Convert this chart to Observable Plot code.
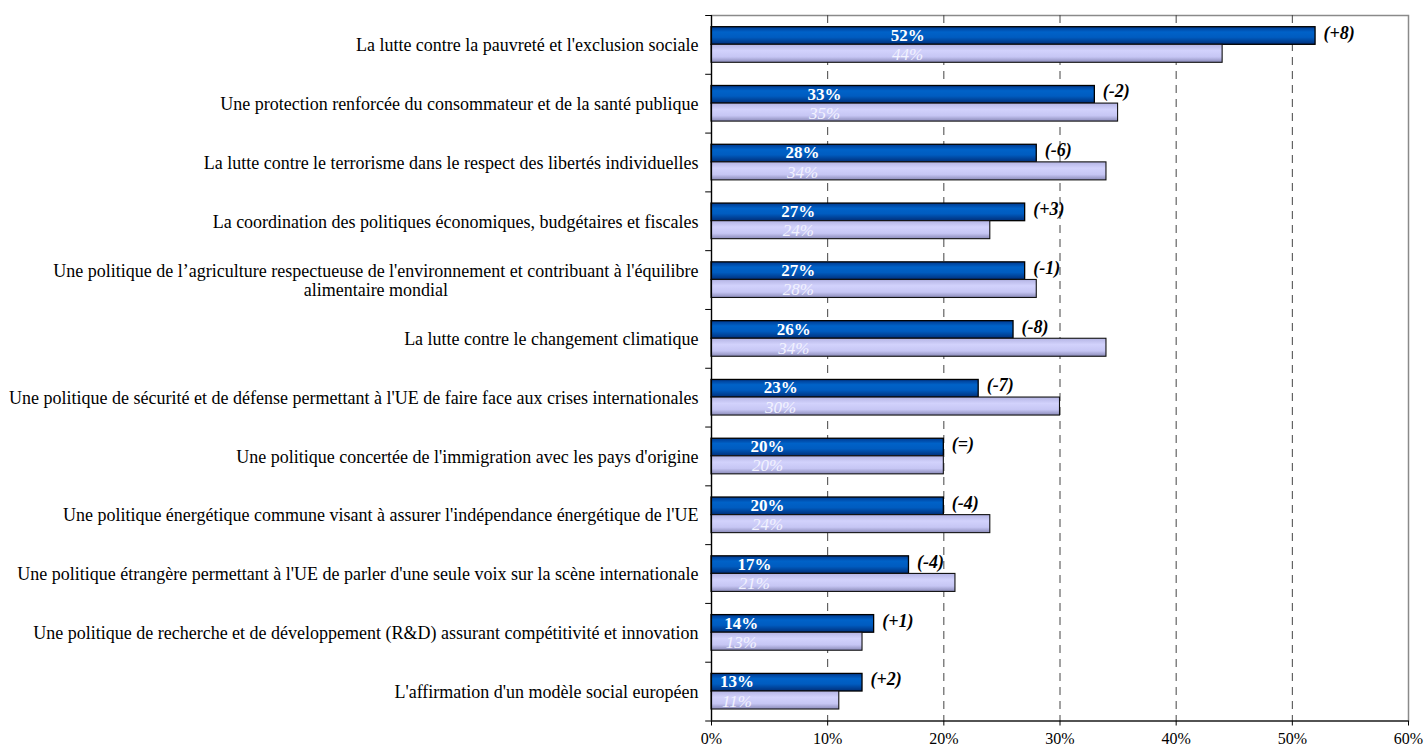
<!DOCTYPE html>
<html>
<head>
<meta charset="utf-8">
<script src="https://cdn.jsdelivr.net/npm/d3@7"></script>
<script src="https://cdn.jsdelivr.net/npm/@observablehq/plot@0.6"></script>
<style>
  html, body { margin: 0; padding: 0; background: #fff; }
  #chart svg { display: block; }
</style>
</head>
<body>
<div id="chart"></div>
<script>
const categories = [
  "La lutte contre la pauvreté et l'exclusion sociale",
  "Une protection renforcée du consommateur et de la santé publique",
  "La lutte contre le terrorisme dans le respect des libertés individuelles",
  "La coordination des politiques économiques, budgétaires et fiscales",
  "Une politique de l’agriculture respectueuse de l'environnement et contribuant à l'équilibre\nalimentaire mondial",
  "La lutte contre le changement climatique",
  "Une politique de sécurité et de défense permettant à l'UE de faire face aux crises internationales",
  "Une politique concertée de l'immigration avec les pays d'origine",
  "Une politique énergétique commune visant à assurer l'indépendance énergétique de l'UE",
  "Une politique étrangère permettant à l'UE de parler d'une seule voix sur la scène internationale",
  "Une politique de recherche et de développement (R&D) assurant compétitivité et innovation",
  "L'affirmation d'un modèle social européen"
];
const actuel    = [52, 33, 28, 27, 27, 26, 23, 20, 20, 17, 14, 13];
const precedent = [44, 35, 34, 24, 28, 34, 30, 20, 24, 21, 13, 11];
const evolution = ["(+8)", "(-2)", "(-6)", "(+3)", "(-1)", "(-8)", "(-7)", "(=)", "(-4)", "(-4)", "(+1)", "(+2)"];
const xTicks = [0, 10, 20, 30, 40, 50, 60];

const rows = categories.map((c, i) => ({cat: c, cur: actuel[i], prev: precedent[i], evo: evolution[i]}));

const W = 1426, H = 749;
const mTop = 15, mBottom = 28.5;
const band = (H - mTop - mBottom) / categories.length;
const labelX = d => (d.cur - 7.2) * 0.377;

const plot = Plot.plot({
  width: W,
  height: H,
  marginLeft: 711,
  marginRight: 18,
  marginTop: mTop,
  marginBottom: mBottom,
  style: {fontFamily: "'Liberation Serif', 'Times New Roman', serif", background: "#fff", color: "#000"},
  x: {domain: [0, 60], ticks: xTicks},
  y: {domain: categories, padding: 0, round: false},
  marks: [
    Plot.frame({stroke: "#8a8a8a", strokeWidth: 1.5}),
    Plot.ruleX([10, 20, 30, 40, 50], {stroke: "#444", strokeDasharray: "8,6", strokeWidth: 1}),
    Plot.barX(rows, {x: "cur", y: "cat", insetTop: 11.7, insetBottom: band - 29.3, fill: "url(#gDark)", stroke: "#000", strokeWidth: 1.3}),
    Plot.barX(rows, {x: "prev", y: "cat", insetTop: 29.3, insetBottom: band - 47.3, fill: "url(#gLight)", stroke: "#111", strokeWidth: 1.1}),
    Plot.ruleX([0], {stroke: "#000", strokeWidth: 1.2}),
    Plot.ruleY(rows, {y: "cat", x1: -0.5, x2: 0, dy: -band / 2, stroke: "#000"}),
    Plot.ruleY(rows.slice(-1), {y: "cat", x1: -0.5, x2: 60, dy: band / 2, stroke: "#000", strokeWidth: 1.2}),
    Plot.axisX({ticks: xTicks, tickFormat: d => d + "%", tickSize: 5, tickPadding: 7, fontSize: 16, label: null}),
    Plot.axisY({tickSize: 0, tickPadding: 13, fontSize: 18, label: null, lineHeight: 1.08}),
    Plot.text(rows, {x: labelX, y: "cat", dy: -9.6, text: d => d.cur + "%", fill: "#fff", fontWeight: "bold", fontSize: 17, textAnchor: "middle"}),
    Plot.text(rows, {x: labelX, y: "cat", dy: 9.6, text: d => d.prev + "%", fill: "#f2f2ff", fontStyle: "italic", fontSize: 17, textAnchor: "middle"}),
    Plot.text(rows, {x: "cur", y: "cat", dx: 8, dy: -12, text: "evo", fill: "#000", fontWeight: "bold", fontStyle: "italic", fontSize: 18, textAnchor: "start"})
  ]
});

const ns = "http://www.w3.org/2000/svg";
const defs = document.createElementNS(ns, "defs");
function grad(id, stops) {
  const g = document.createElementNS(ns, "linearGradient");
  g.setAttribute("id", id);
  g.setAttribute("x1", "0"); g.setAttribute("y1", "0");
  g.setAttribute("x2", "0"); g.setAttribute("y2", "1");
  for (const [o, c] of stops) {
    const s = document.createElementNS(ns, "stop");
    s.setAttribute("offset", o);
    s.setAttribute("stop-color", c);
    g.appendChild(s);
  }
  defs.appendChild(g);
}
grad("gDark", [[0, "#00398f"], [0.3, "#0062c8"], [0.6, "#005cc0"], [1, "#002f7a"]]);
grad("gLight", [[0, "#b4b4e4"], [0.35, "#d2d2fc"], [0.7, "#c6c6f4"], [1, "#8a8ab8"]]);
plot.insertBefore(defs, plot.firstChild);

document.getElementById("chart").appendChild(plot);

// centre the second line of wrapped category labels under the first line
plot.querySelectorAll("g[aria-label='y-axis tick label'] text").forEach(t => {
  const spans = t.querySelectorAll("tspan");
  if (spans.length >= 2) {
    const w = spans[0].getComputedTextLength();
    for (let k = 1; k < spans.length; k++) {
      spans[k].setAttribute("x", (parseFloat(spans[k].getAttribute("x") || 0) - w / 2));
      spans[k].setAttribute("text-anchor", "middle");
    }
  }
});
</script>
</body>
</html>
